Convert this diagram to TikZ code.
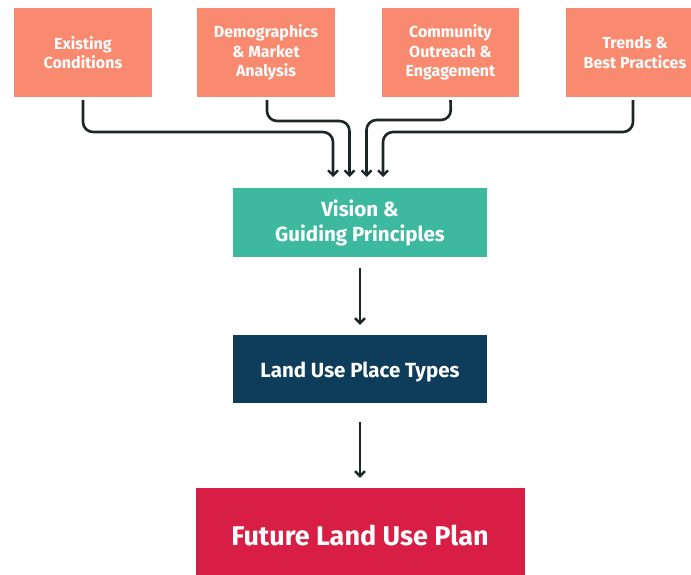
\documentclass[tikz,border=0pt]{standalone}
\usepackage{fontspec}
\setmainfont{Fira Sans}
\usetikzlibrary{arrows.meta}
\definecolor{salmon}{HTML}{F98A70}
\definecolor{tealc}{HTML}{3DB9A0}
\definecolor{navy}{HTML}{0E3D5C}
\definecolor{crimson}{HTML}{D81E45}
\definecolor{ink}{HTML}{1B2626}
\begin{document}
\begin{tikzpicture}[x=1pt,y=-1pt,
  topbox/.style={fill=salmon,text=white,font=\fontsize{16}{19.5}\selectfont\bfseries,align=center,inner sep=0pt},
  midbox/.style={text=white,align=center,inner sep=0pt},
  conn/.style={draw=ink,line width=2.6pt,rounded corners=10pt,-{Straight Barb[length=5pt,width=10pt,line width=2.4pt]}},
  link/.style={draw=ink,line width=2.4pt,-{Straight Barb[length=5pt,width=10pt,line width=2.4pt]}}]
\useasboundingbox (0,0) rectangle (691,575);
\fill[white] (0,0) rectangle (691,575);
% top boxes
\node[topbox,minimum width=138pt,minimum height=89pt] (b1) at (83,52.5) {Existing\\Conditions};
\node[topbox,minimum width=138pt,minimum height=89pt] (b2) at (266,52.5) {Demographics\\\& Market\\Analysis};
\node[topbox,minimum width=137pt,minimum height=89pt] (b3) at (450.5,52.5) {Community\\Outreach \&\\Engagement};
\node[topbox,minimum width=138pt,minimum height=89pt] (b4) at (635,52.5) {Trends \&\\Best Practices};
% middle boxes
\node[midbox,fill=tealc,minimum width=254pt,minimum height=69pt,font=\fontsize{20.5}{25}\selectfont\bfseries] (vis) at (360,222.5) {Vision \&\\Guiding Principles};
\node[midbox,fill=navy,minimum width=254pt,minimum height=68pt,font=\fontsize{20.5}{24}\selectfont\bfseries] (luse) at (360,369) {\raisebox{-3pt}[15pt][4pt]{Land Use Place Types}};
\node[midbox,fill=crimson,minimum width=329pt,minimum height=94pt,font=\fontsize{27}{30}\selectfont\bfseries] (flu) at (360,535) {Future Land Use Plan};
% arrow targets
\coordinate (t1) at (333,177);
\coordinate (t2) at (349.5,177);
\coordinate (t3) at (366.5,177);
\coordinate (t4) at (383,177);
% connectors
\draw[conn] ([yshift=-3pt]b1.south) -- (83,132) -- (t1 |- 0,132) -- (t1);
\draw[conn] ([yshift=-3pt,xshift=1pt]b2.south) -- (267,121) -- (t2 |- 0,121) -- (t2);
\draw[conn] ([yshift=-3pt]b3.south) -- (451,120) -- (t3 |- 0,120) -- (t3);
\draw[conn] ([yshift=-3pt,xshift=-2pt]b4.south) -- (633,132) -- (t4 |- 0,132) -- (t4);
\draw[link,shorten <=11pt,shorten >=10pt] (vis.south) -- (luse.north);
\draw[link,shorten <=19pt,shorten >=10pt] (luse.south) -- (flu.north);
\end{tikzpicture}
\end{document}
